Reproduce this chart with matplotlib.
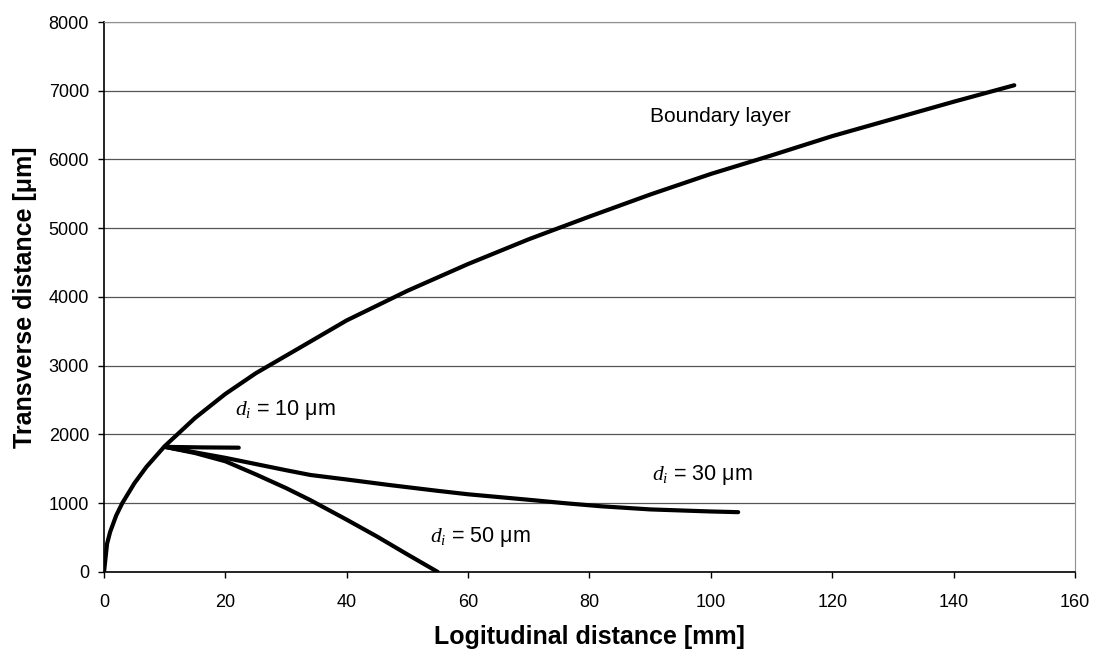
import matplotlib.pyplot as plt

plt.rcParams['font.family'] = ['Liberation Sans', 'DejaVu Sans']
plt.rcParams['mathtext.fontset'] = 'custom'
plt.rcParams['mathtext.it'] = 'Liberation Serif:italic'
plt.rcParams['mathtext.rm'] = 'Liberation Serif'

# boundary layer edge
bl_x = [0, 0.5, 1, 2, 3, 5, 7, 10, 15, 20, 25, 33, 40, 50, 60, 70, 80, 90, 100, 110, 120, 130, 140, 150]
bl_y = [0, 410, 580, 820, 1000, 1290, 1530, 1830, 2240, 2590, 2890, 3300, 3660, 4090, 4480, 4840, 5170, 5490, 5790, 6060, 6340, 6590, 6840, 7080]

# particle trajectories
d10_x = [10, 16, 22.2]
d10_y = [1820, 1812, 1808]

d30_x = [10, 15, 20, 25, 30, 34, 40, 47, 55, 60, 65, 70, 76, 82, 90, 100, 104.5]
d30_y = [1820, 1740, 1660, 1570, 1480, 1411, 1345, 1265, 1180, 1130, 1090, 1050, 1000, 955, 910, 880, 870]

d50_x = [10, 15, 20, 25, 30, 34, 40, 45, 50, 55]
d50_y = [1820, 1730, 1610, 1420, 1220, 1045, 760, 515, 255, 0]

fig = plt.figure(figsize=(10.95, 6.51), dpi=100)
ax = fig.add_axes([0.095, 0.1214, 0.8867, 0.8448])

ax.plot(bl_x, bl_y, color='black', lw=3, solid_capstyle='round')
ax.plot(d10_x, d10_y, color='black', lw=3, solid_capstyle='round')
ax.plot(d30_x, d30_y, color='black', lw=3, solid_capstyle='round')
ax.plot(d50_x, d50_y, color='black', lw=3, solid_capstyle='round')

ax.set_xlim(0, 160)
ax.set_ylim(0, 8000)
ax.set_xticks(range(0, 161, 20))
ax.set_yticks(range(0, 8001, 1000))
ax.yaxis.grid(True, color='#555555', lw=0.9)
ax.set_axisbelow(True)

for s in ['top', 'right']:
    ax.spines[s].set_color('#909090')
ax.spines['left'].set_linewidth(1.2)
ax.spines['bottom'].set_linewidth(1.2)
ax.tick_params(direction='out', length=4.3, width=1, labelsize=13)
ax.tick_params(axis='x', pad=11.5)
ax.tick_params(axis='y', pad=6.5)

ax.set_xlabel('Logitudinal distance [mm]', fontsize=18, fontweight='bold', labelpad=10)
ax.set_ylabel('Transverse distance [\u03bcm]', fontsize=18, fontweight='bold', labelpad=8)

ax.text(90.0, 6620, 'Boundary layer', fontsize=15, va='center')
ax.text(21.6, 2356, '$d_i$ = 10 \u03bcm', fontsize=15.5, va='center')
ax.text(90.3, 1411, '$d_i$ = 30 \u03bcm', fontsize=15.5, va='center')
ax.text(53.7, 509, '$d_i$ = 50 \u03bcm', fontsize=15.5, va='center')

fig.savefig('out.png', dpi=100)
